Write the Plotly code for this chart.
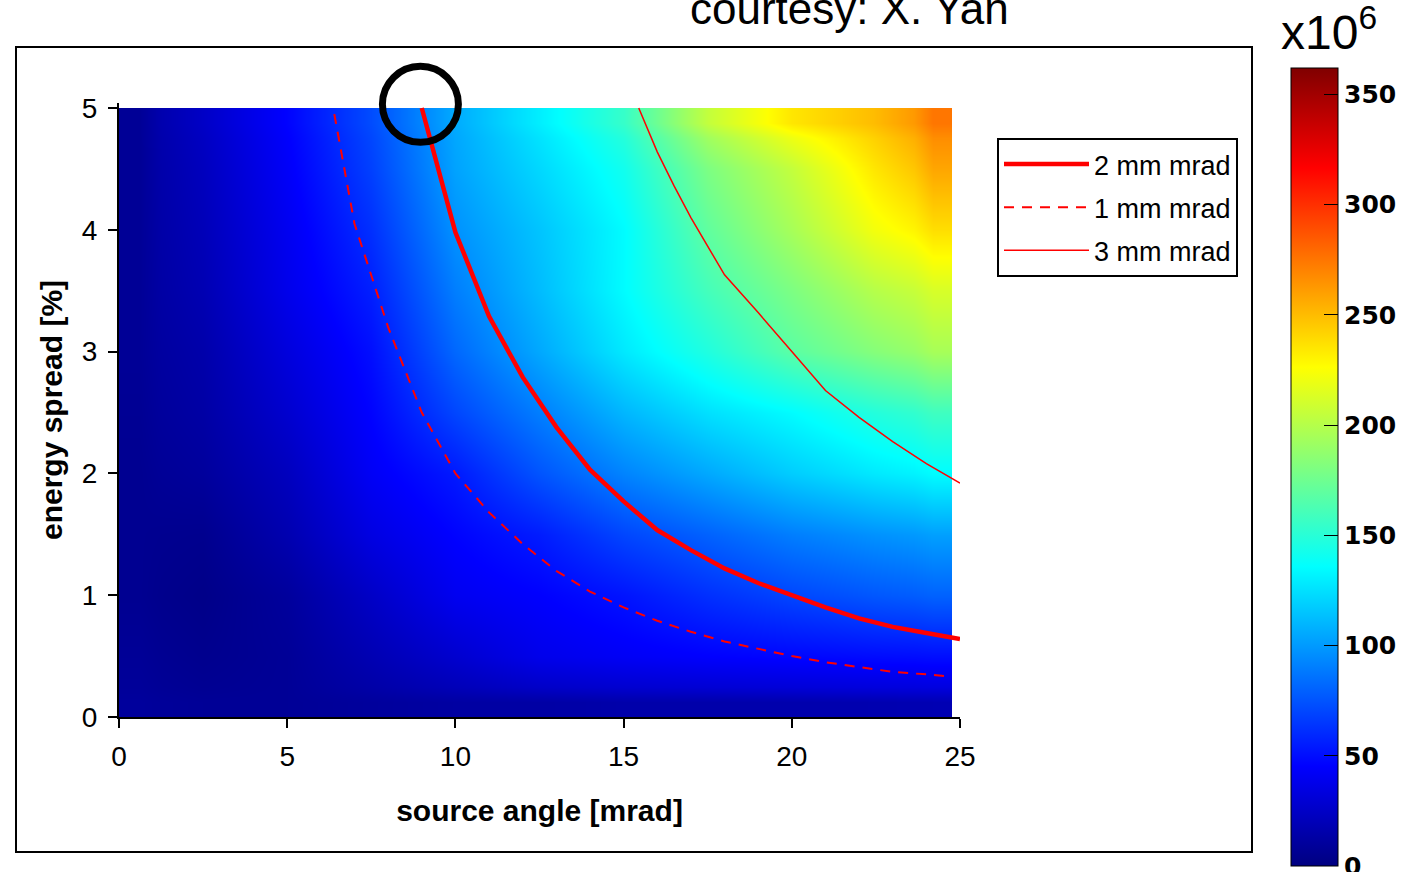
import plotly.graph_objects as go

# ---------------- data ----------------
# heatmap cell edges (source angle [mrad], energy spread [%])
angle_edges = [0, 1.25, 3.75, 6.25, 8.75, 11.25, 13.75, 16.25, 18.75, 21.25, 23.625, 24.75]
spread_edges = [0, 0.25, 0.75, 1.25, 1.75, 2.25, 2.75, 3.25, 3.75, 4.25, 4.75, 5.0]

# intensity (x10^6), rows from energy spread 0 (bottom) to 5 (top),
# columns at source angle 0, 2.5, 5, ..., 22.5, 24.75
row_00 = [10, 8, 8, 10, 12, 13, 15, 15, 16, 17, 18]
row_05 = [8, 5, 8, 18, 28, 38, 42, 45, 47, 49, 50]
row_10 = [6, 3, 10, 25, 40, 45, 52, 62, 70, 76, 80]
row_15 = [6, 5, 17, 35, 46, 55, 70, 80, 90, 97, 102]
row_20 = [6, 10, 22, 42, 54, 75, 92, 105, 118, 128, 135]
row_25 = [7, 13, 28, 46, 70, 90, 110, 125, 135, 148, 158]
row_30 = [8, 15, 33, 50, 82, 105, 128, 147, 168, 183, 195]
row_35 = [8, 18, 38, 56, 90, 112, 135, 160, 180, 200, 212]
row_40 = [8, 20, 40, 62, 97, 115, 135, 170, 195, 222, 238]
row_45 = [8, 22, 43, 68, 103, 122, 142, 180, 205, 235, 258]
row_50 = [8, 25, 46, 72, 106, 130, 155, 205, 235, 250, 275]
intensity = [row_00, row_05, row_10, row_15, row_20, row_25,
             row_30, row_35, row_40, row_45, row_50]

# emittance lines
em2_x = [9, 10, 11, 12, 13, 14, 15, 16, 17, 18, 19, 20, 21, 22, 23, 24, 25]
em2_y = [5.0, 3.98, 3.29, 2.79, 2.38, 2.03, 1.77, 1.535, 1.37, 1.22, 1.10, 1.0, 0.9, 0.81, 0.74, 0.69, 0.64]
em1_x = [6.4, 7, 8, 9, 10, 11, 12, 13, 14, 15, 16, 17, 18, 19, 20, 21, 22, 23, 24, 24.75]
em1_y = [4.95, 4.05, 3.2, 2.5, 2.0, 1.68, 1.42, 1.2, 1.03, 0.9, 0.79, 0.70, 0.62, 0.56, 0.50, 0.45, 0.41, 0.37, 0.35, 0.33]
em3_x = [15.45, 16, 16.5, 17, 18, 19, 20, 21, 22, 23, 24, 25]
em3_y = [5.0, 4.64, 4.36, 4.1, 3.63, 3.32, 3.0, 2.68, 2.46, 2.26, 2.08, 1.92]

# highlighted point
mark_x = [8.96]
mark_y = [5.03]

x_ticks = [0, 5, 10, 15, 20, 25]
y_ticks = [0, 1, 2, 3, 4, 5]
cbar_ticks = [0, 50, 100, 150, 200, 250, 300, 350]

# ---------------- figure ----------------
W, H = 1414, 872
ML, MR, MT, MB = 119, 454, 103, 155
PW, PH = W - ML - MR, H - MT - MB
Y_SCALE = 121.8  # pixels per % of energy spread


def px2paper_x(px):
    return (px - ML) / PW


def px2paper_y(py):
    return (H - MB - py) / PH


jet = [[0.0, '#000080'], [0.125, '#0000ff'], [0.375, '#00ffff'],
       [0.625, '#ffff00'], [0.875, '#ff0000'], [1.0, '#800000']]

fig = go.Figure()

fig.add_trace(go.Heatmap(
    x=angle_edges, y=spread_edges, z=intensity,
    zmin=0, zmax=362, zsmooth='best', colorscale=jet,
    showlegend=False, hoverinfo='skip',
    colorbar=dict(
        x=px2paper_x(1291), xanchor='left', y=px2paper_y(467), yanchor='middle',
        thickness=47, thicknessmode='pixels', len=798, lenmode='pixels',
        xpad=0, ypad=0, outlinecolor='black', outlinewidth=1,
        tickvals=cbar_ticks, ticks='inside', ticklen=14, tickcolor='black', tickwidth=1,
        ticklabeloverflow='allow',
        tickfont=dict(family='DejaVu Sans', size=25, color='black', weight='bold'),
    ),
))

fig.add_trace(go.Scatter(x=em2_x, y=em2_y, mode='lines', name='2 mm mrad',
                         line=dict(color='#ff0000', width=4.5), legendgroup='a'))
fig.add_trace(go.Scatter(x=em1_x, y=em1_y, mode='lines', name='1 mm mrad',
                         line=dict(color='#ff0000', width=2, dash='10px,8px'), legendgroup='b'))
fig.add_trace(go.Scatter(x=em3_x, y=em3_y, mode='lines', name='3 mm mrad',
                         line=dict(color='#ff0000', width=1.5), legendgroup='c'))

fig.add_trace(go.Scatter(x=mark_x, y=mark_y, mode='markers', showlegend=False,
                         cliponaxis=False, hoverinfo='skip',
                         marker=dict(symbol='circle-open', size=76, color='black',
                                     line=dict(color='black', width=7))))

axis_common = dict(showline=True, linecolor='black', linewidth=2, ticks='outside',
                   ticklen=9, tickwidth=2, tickcolor='black', showgrid=False,
                   zeroline=False, mirror=False,
                   tickfont=dict(family='Liberation Sans', size=28, color='black'))

fig.update_layout(
    width=W, height=H,
    margin=dict(l=ML, r=MR, t=MT, b=MB, autoexpand=False),
    paper_bgcolor='white', plot_bgcolor='white',
    xaxis=dict(range=[0, 25], tickvals=x_ticks, ticklabelstandoff=4, **axis_common,
               title=dict(text='<b>source angle [mrad]</b>', standoff=29,
                          font=dict(family='Liberation Sans', size=30, color='black'))),
    yaxis=dict(range=[0, PH / Y_SCALE], tickvals=y_ticks, ticklabelstandoff=5, **axis_common,
               title=dict(text='<b>energy spread [%]</b>', standoff=10,
                          font=dict(family='Liberation Sans', size=30, color='black'))),
    legend=dict(x=px2paper_x(997), y=px2paper_y(138), xanchor='left', yanchor='top',
                bgcolor='white', bordercolor='black', borderwidth=2,
                font=dict(family='Liberation Sans', size=27, color='black'),
                itemwidth=85, tracegroupgap=5, traceorder='grouped'),
    shapes=[dict(type='rect', xref='paper', yref='paper',
                 x0=px2paper_x(16), x1=px2paper_x(1252),
                 y0=px2paper_y(852), y1=px2paper_y(47),
                 line=dict(color='black', width=2), layer='below')],
    annotations=[
        dict(text='courtesy: X. Yan', xref='paper', yref='paper',
             x=px2paper_x(849), y=px2paper_y(9), xanchor='center', yanchor='middle',
             showarrow=False, font=dict(family='Liberation Sans', size=44, color='black')),
        dict(text='x10<sup>6</sup>', xref='paper', yref='paper',
             x=px2paper_x(1329), y=px2paper_y(29), xanchor='center', yanchor='middle',
             showarrow=False, font=dict(family='Liberation Sans', size=48, color='black')),
    ],
)

fig.write_html('out.html')
